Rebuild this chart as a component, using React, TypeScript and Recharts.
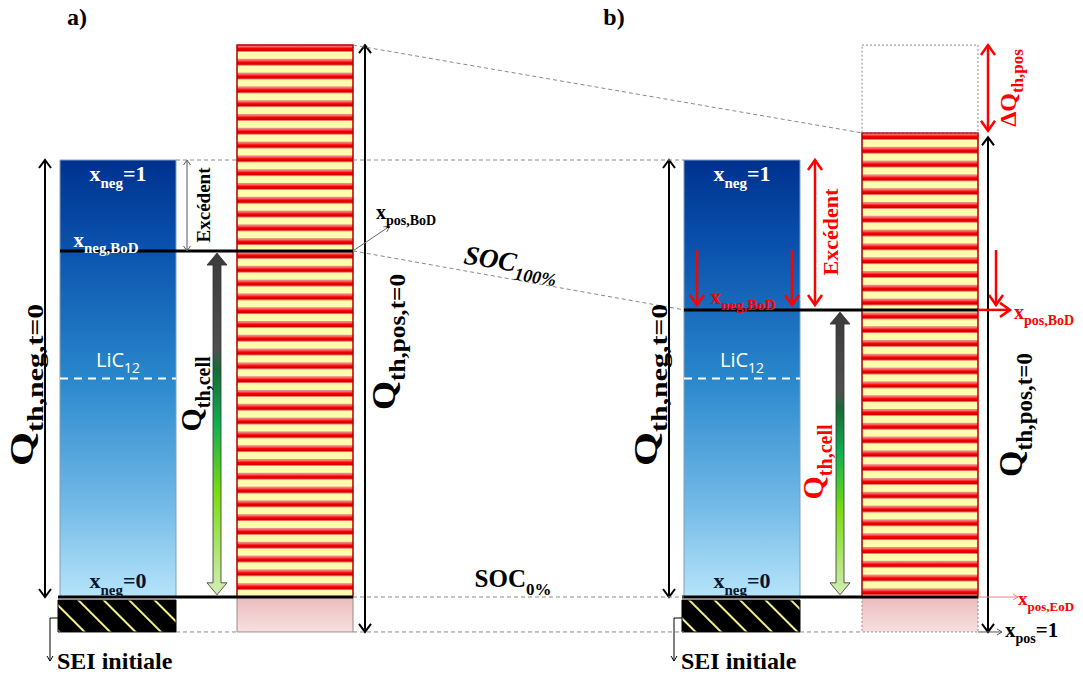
import { ComposedChart, XAxis, YAxis, ReferenceArea, ReferenceLine, ReferenceDot } from 'recharts';

const W = 1083;
const H = 676;
const PX_PER_UNIT = 4.37; // vertical scale: 1 unit = 1 % of Q_th,neg
const BASE_PX = 597; // pixel row of SOC 0% (x_neg = 0)
const Y_MIN = -(H - BASE_PX) / PX_PER_UNIT;
const Y_MAX = BASE_PX / PX_PER_UNIT;
const at = (px: number) => (BASE_PX - px) / PX_PER_UNIT;

// charge levels, in % of the initial negative electrode capacity
const PANELS = ['a)', 'b)'];
const NEG_EMPTY = [0, 0]; // x_neg = 0
const NEG_FULL = [100, 100]; // x_neg = 1
const LIC12_LEVEL = [50, 50];
const BOD_LEVEL = [79.2, 65.7]; // x_neg,BoD  (SOC 100%)
const POS_TOP = [126.3, 106.2]; // positive electrode capacity top
const POS_BOTTOM = [-8, -8]; // x_pos = 1
const SEI_BOTTOM = [-8, -8];

// layout (pixel columns)
const NEG_X = [[60, 176], [684, 800]];
const POS_X = [[237, 353], [862, 978]];

const SERIF = '"Liberation Serif", "Times New Roman", serif';
const RED = '#ff0000';

type Seg = [string, 'n' | 's'];

function Rich(props: any) {
  const {
    cx, cy, segs, size, sub, color = '#000', rotate = 0, anchor = 'middle',
    stretch = 1, italic = false, family = SERIF, weight = 'bold',
  } = props;
  const shift = size * 0.3;
  let cur = 0;
  const spans = (segs as Seg[]).map(([t, k], i) => {
    const target = k === 's' ? shift : 0;
    const dy = target - cur;
    cur = target;
    return (
      <tspan key={i} dy={dy} fontSize={k === 's' ? sub : size}>
        {t}
      </tspan>
    );
  });
  return (
    <text
      transform={`translate(${cx},${cy}) rotate(${rotate}) scale(${stretch},1)`}
      x={0}
      y={size * 0.33}
      textAnchor={anchor}
      fill={color}
      fontFamily={family}
      fontWeight={weight}
      fontStyle={italic ? 'italic' : 'normal'}
      fontSize={size}
    >
      {spans}
    </text>
  );
}

const label = (key: string, x: number, y: number, opts: any) => (
  <ReferenceDot
    key={key}
    x={x}
    y={y}
    r={0}
    ifOverflow="visible"
    shape={(p: any) => <Rich cx={p.cx} cy={p.cy} {...opts} />}
  />
);

function arrow(color: string, width: number, o: { start?: boolean; end?: boolean; head?: number; half?: number } = {}) {
  const { start = false, end = true, head = 9, half = 6 } = o;
  return (p: any) => {
    const { x1, y1, x2, y2 } = p;
    const len = Math.hypot(x2 - x1, y2 - y1) || 1;
    const ux = (x2 - x1) / len;
    const uy = (y2 - y1) / len;
    const chev = (tx: number, ty: number, dx: number, dy: number) =>
      `M${tx - dx * head - dy * half},${ty - dy * head + dx * half}L${tx},${ty}L${tx - dx * head + dy * half},${ty - dy * head - dx * half}`;
    return (
      <g>
        <line x1={x1} y1={y1} x2={x2} y2={y2} stroke={color} strokeWidth={width} />
        {end && <path d={chev(x2, y2, ux, uy)} fill="none" stroke={color} strokeWidth={width} />}
        {start && <path d={chev(x1, y1, -ux, -uy)} fill="none" stroke={color} strokeWidth={width} />}
      </g>
    );
  };
}

const cellArrow = (p: any) => {
  const { x1, y1, y2 } = p;
  const top = Math.min(y1, y2);
  const bot = Math.max(y1, y2);
  const x = x1;
  const sw = 4;
  const hw = 10;
  const hl = 12;
  const d = `M${x},${top}L${x + hw},${top + hl}L${x + sw},${top + hl}L${x + sw},${bot - hl}L${x + hw},${bot - hl}L${x},${bot}L${x - hw},${bot - hl}L${x - sw},${bot - hl}L${x - sw},${top + hl}L${x - hw},${top + hl}Z`;
  return <path d={d} fill="url(#cellGrad)" stroke="#333" strokeWidth={0.8} />;
};

const seg = (key: string, xa: number, ya: number, xb: number, yb: number, props: any) => (
  <ReferenceLine
    key={key}
    segment={[{ x: xa, y: ya }, { x: xb, y: yb }]}
    ifOverflow="visible"
    {...props}
  />
);

const dashed = { stroke: '#8a8a8a', strokeWidth: 1, strokeDasharray: '4 3' };

export default function App() {
  const elements: any[] = [];

  PANELS.forEach((panel, i) => {
    const [nx0, nx1] = NEG_X[i];
    const [px0, px1] = POS_X[i];
    const k = `p${i}`;
    // positive electrode
    elements.push(
      <ReferenceArea key={`${k}pink`} x1={px0} x2={px1} y1={POS_BOTTOM[i]} y2={NEG_EMPTY[i]}
        fill="url(#pinkGrad)" fillOpacity={1} stroke="#9a8a8a" strokeWidth={1}
        strokeDasharray={i === 1 ? '2 2' : undefined} ifOverflow="visible" />,
      <ReferenceArea key={`${k}pos`} x1={px0} x2={px1} y1={NEG_EMPTY[i]} y2={POS_TOP[i]}
        fill={`url(#stripes${i})`} fillOpacity={1} stroke="#b00000" strokeWidth={1.5} ifOverflow="visible" />,
      // negative electrode
      <ReferenceArea key={`${k}neg`} x1={nx0} x2={nx1} y1={NEG_EMPTY[i]} y2={NEG_FULL[i]}
        fill="url(#negGrad)" fillOpacity={1} stroke="#7f9fbf" strokeWidth={1} ifOverflow="visible" />,
      <ReferenceArea key={`${k}sei`} x1={nx0 - 2} x2={nx1} y1={SEI_BOTTOM[i]} y2={NEG_EMPTY[i] - 0.7}
        fill="url(#seiHatch)" fillOpacity={1} stroke="#000" strokeWidth={1} ifOverflow="visible" />,
    );
    elements.push(
      seg(`${k}lic`, nx0, LIC12_LEVEL[i], nx1, LIC12_LEVEL[i], { stroke: '#fff', strokeWidth: 2, strokeDasharray: '8 6' }),
      seg(`${k}bod`, nx0, BOD_LEVEL[i], px1, BOD_LEVEL[i], { stroke: '#000', strokeWidth: 3 }),
      seg(`${k}soc0`, nx0 - 2, NEG_EMPTY[i], px1, NEG_EMPTY[i], { stroke: '#000', strokeWidth: 3 }),
      seg(`${k}qneg`, nx0 - 15, NEG_EMPTY[i], nx0 - 15, NEG_FULL[i],
        { shape: arrow('#000', 2, { start: true, end: true, head: 8, half: 6 }) }),
      seg(`${k}sei1`, nx0 - 2, at(618), nx0 - 10, at(618), { stroke: '#000', strokeWidth: 1 }),
      seg(`${k}sei2`, nx0 - 10, at(618), nx0 - 10, at(661), { shape: arrow('#000', 1, { head: 5, half: 3 }) }),
    );
    elements.push(
      label(`${k}title`, i === 0 ? 77 : 614, at(17), { segs: [[panel, 'n']], size: 24 }),
      label(`${k}x1`, (nx0 + nx1) / 2, at(174), { segs: [['x', 'n'], ['neg', 's'], ['=1', 'n']], size: 22, sub: 15, color: '#fff' }),
      label(`${k}lictxt`, (nx0 + nx1) / 2, at(360), {
        segs: [['LiC', 'n'], ['12', 's']], size: 20, sub: 14, color: '#fff', weight: 'normal', family: '"Open Sans", sans-serif',
      }),
      label(`${k}x0`, (nx0 + nx1) / 2, at(581), { segs: [['x', 'n'], ['neg', 's'], ['=0', 'n']], size: 22, sub: 15, color: '#0a1430' }),
      label(`${k}sei`, nx0 - 3, at(661), { segs: [['SEI initiale', 'n']], size: 24, anchor: 'start' }),
      label(`${k}qnegtxt`, nx0 - 38, at(385), {
        segs: [['Q', 'n'], ['th,neg,t=0', 's']], size: 34, sub: 23, rotate: -90, stretch: 1.3,
      }),
    );
  });

  // a) annotations
  elements.push(
    seg('aexc', 187, NEG_FULL[0], 187, BOD_LEVEL[0], { shape: arrow('#555', 1, { start: true, head: 5, half: 3.5 }) }),
    seg('acell', 217, BOD_LEVEL[0] - 0.5, 217, NEG_EMPTY[0] + 0.5, { shape: cellArrow }),
    seg('aqpos', 365, POS_TOP[0], 365, POS_BOTTOM[0], { shape: arrow('#000', 2, { start: true, head: 8, half: 6 }) }),
    seg('axpos', 353, BOD_LEVEL[0], 390, at(226), { shape: arrow('#666', 1, { head: 6, half: 3 }) }),
    label('abodtxt', 106, at(240), { segs: [['x', 'n'], ['neg,BoD', 's']], size: 21, sub: 15, color: '#fff' }),
    label('aexctxt', 204, at(205), { segs: [['Excédent', 'n']], size: 19, rotate: -90 }),
    label('acelltxt', 191, at(394), { segs: [['Q', 'n'], ['th,cell', 's']], size: 30, sub: 20, rotate: -90 }),
    label('aqpostxt', 384, at(342), {
      segs: [['Q', 'n'], ['th,pos,t=0', 's']], size: 34, sub: 23, rotate: -90, stretch: 1.1,
    }),
    label('axpostxt', 376, at(212), { segs: [['x', 'n'], ['pos,BoD', 's']], size: 20, sub: 14, anchor: 'start' }),
  );

  // connecting dashed lines
  elements.push(
    seg('d1', POS_X[0][1], POS_TOP[0], POS_X[1][0], POS_TOP[1], dashed),
    seg('d2', POS_X[0][1], BOD_LEVEL[0], NEG_X[1][0], BOD_LEVEL[1], dashed),
    seg('d3', NEG_X[0][1], NEG_FULL[0], POS_X[0][0], NEG_FULL[0], dashed),
    seg('d4', POS_X[0][1], NEG_FULL[0], NEG_X[1][0], NEG_FULL[1], dashed),
    seg('d5', POS_X[0][1], NEG_EMPTY[0], NEG_X[1][0], NEG_EMPTY[1], dashed),
    seg('d6', NEG_X[0][1], POS_BOTTOM[0], POS_X[0][0], POS_BOTTOM[0], dashed),
    seg('d7', POS_X[0][1], POS_BOTTOM[0], NEG_X[1][0], POS_BOTTOM[1], dashed),
    seg('d8', NEG_X[1][1], POS_BOTTOM[1], POS_X[1][0], POS_BOTTOM[1], dashed),
    <ReferenceArea key="lost" x1={POS_X[1][0]} x2={POS_X[1][1]} y1={POS_TOP[1]} y2={POS_TOP[0]}
      fill="none" stroke="#8a8a8a" strokeWidth={1} strokeDasharray="2 2" ifOverflow="visible" />,
    label('soc100', 511, at(262), {
      segs: [['SOC', 'n'], ['100%', 's']], size: 27, sub: 18, italic: true, rotate: 9,
    }),
    label('soc0', 513, at(579), { segs: [['SOC', 'n'], ['0%', 's']], size: 25, sub: 17 }),
  );

  // b) annotations
  const redArrow = (key: string, xa: number, ya: number, xb: number, yb: number, start = false) =>
    seg(key, xa, ya, xb, yb, { shape: arrow(RED, 2.5, { start, head: 10, half: 7 }) });
  elements.push(
    redArrow('bexc', 815, NEG_FULL[1], 815, at(305), true),
    redArrow('bd1', 697, at(250), 697, at(305)),
    redArrow('bd2', 792, at(250), 792, at(305)),
    redArrow('bd3', 996, at(250), 996, at(305)),
    seg('bcell', 840, BOD_LEVEL[1] - 0.5, 840, NEG_EMPTY[1] + 0.5, { shape: cellArrow }),
    redArrow('bdq', 988, POS_TOP[0], 988, POS_TOP[1] + 0.5, true),
    seg('bqpos', 988, POS_TOP[1] - 1, 988, POS_BOTTOM[1], { shape: arrow('#000', 2, { start: true, head: 8, half: 6 }) }),
    redArrow('bxbod', POS_X[1][1], BOD_LEVEL[1], 1010, BOD_LEVEL[1]),
    seg('bxeod', POS_X[1][1], NEG_EMPTY[1], 1018, NEG_EMPTY[1], { shape: arrow('#f08080', 1, { head: 5, half: 3 }) }),
    seg('bxpos1', POS_X[1][1], POS_BOTTOM[1], 1002, POS_BOTTOM[1], { shape: arrow('#555', 1, { head: 5, half: 3 }) }),
    label('bbodtxt', 743, at(297), { segs: [['x', 'n'], ['neg,BoD', 's']], size: 21, sub: 15, color: RED }),
    label('bexctxt', 831, at(232), { segs: [['Excédent', 'n']], size: 22, rotate: -90, color: RED }),
    label('bcelltxt', 813, at(462), { segs: [['Q', 'n'], ['th,cell', 's']], size: 30, sub: 20, rotate: -90, color: RED }),
    label('bdqtxt', 1008, at(88), { segs: [['ΔQ', 'n'], ['th,pos', 's']], size: 24, sub: 17, rotate: -90, color: RED }),
    label('bqpostxt', 1011, at(415), {
      segs: [['Q', 'n'], ['th,pos,t=0', 's']], size: 34, sub: 23, rotate: -90, stretch: 1.0,
    }),
    label('bxbodtxt', 1014, at(312), { segs: [['x', 'n'], ['pos,BoD', 's']], size: 20, sub: 14, anchor: 'start', color: RED }),
    label('bxeodtxt', 1018, at(599), { segs: [['x', 'n'], ['pos,EoD', 's']], size: 19, sub: 13, anchor: 'start', color: RED }),
    label('bxpos1txt', 1005, at(630), { segs: [['x', 'n'], ['pos', 's'], ['=1', 'n']], size: 21, sub: 14, anchor: 'start' }),
  );

  return (
    <div style={{ position: 'absolute', left: 0, top: 0, width: W, height: H, background: '#fff' }}>
      <ComposedChart width={W} height={H} margin={{ top: 0, right: 0, bottom: 0, left: 0 }} data={[]}>
        <defs>
          <linearGradient id="negGrad" x1="0" y1="0" x2="0" y2="1">
            <stop offset="0" stopColor="#00318f" />
            <stop offset="0.2" stopColor="#0a52ad" />
            <stop offset="0.5" stopColor="#2a87cc" />
            <stop offset="0.78" stopColor="#70b8e6" />
            <stop offset="1" stopColor="#b6e4fa" />
          </linearGradient>
          <linearGradient id="pinkGrad" x1="0" y1="0" x2="0" y2="1">
            <stop offset="0" stopColor="#ecbcbc" />
            <stop offset="1" stopColor="#f8dfdf" />
          </linearGradient>
          <linearGradient id="cellGrad" x1="0" y1="0" x2="0" y2="1">
            <stop offset="0" stopColor="#3a3a3a" />
            <stop offset="0.28" stopColor="#505050" />
            <stop offset="0.34" stopColor="#166a35" />
            <stop offset="0.5" stopColor="#10b050" />
            <stop offset="0.7" stopColor="#78dd10" />
            <stop offset="1" stopColor="#d4eeb4" />
          </linearGradient>
          <linearGradient id="redBand" x1="0" y1="0" x2="0" y2="1">
            <stop offset="0" stopColor="#d89a9a" />
            <stop offset="0.2" stopColor="#ff7070" />
            <stop offset="0.5" stopColor="#ff0000" />
            <stop offset="0.8" stopColor="#c80000" />
            <stop offset="1" stopColor="#ff8a8a" />
          </linearGradient>
          {[45, 133].map((y0, i) => (
            <pattern key={i} id={`stripes${i}`} patternUnits="userSpaceOnUse" x={0} y={y0} width={20} height={13.8}>
              <rect x={0} y={0} width={20} height={13.8} fill="#fffcae" />
              <rect x={0} y={0} width={20} height={6.8} fill="url(#redBand)" />
            </pattern>
          ))}
          <pattern id="seiHatch" patternUnits="userSpaceOnUse" width={18} height={18} patternTransform="rotate(-45)">
            <rect x={0} y={0} width={18} height={18} fill="#000" />
            <line x1={9} y1={0} x2={9} y2={18} stroke="#f4f08a" strokeWidth={2} />
          </pattern>
        </defs>
        <XAxis type="number" dataKey="x" domain={[0, W]} hide allowDataOverflow />
        <YAxis type="number" dataKey="y" domain={[Y_MIN, Y_MAX]} hide allowDataOverflow />
        {elements}
      </ComposedChart>
    </div>
  );
}
